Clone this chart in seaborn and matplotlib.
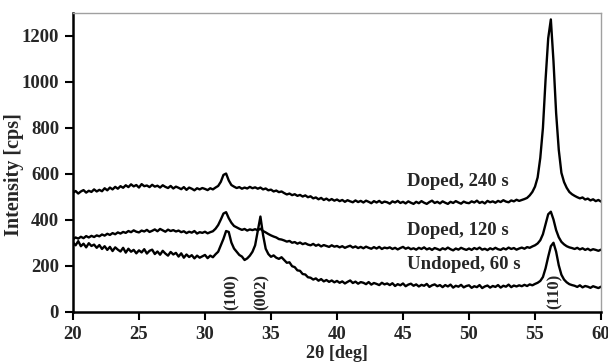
import matplotlib
matplotlib.use("Agg")
import matplotlib.pyplot as plt
import numpy as np
import pandas as pd
import seaborn as sns

# 2-theta grid of the scans (0.2 deg steps, 20..60 deg)
two_theta = np.round(np.linspace(20, 60, 201), 1)

# Doped, 240 s
doped_240 = [
    518, 526, 515, 524, 530, 519, 527, 522, 533, 524,
    531, 525, 538, 529, 541, 533, 544, 536, 547, 540,
    551, 543, 555, 546, 552, 541, 556, 547, 550, 543,
    553, 545, 549, 541, 551, 544, 539, 548, 537, 545,
    540, 534, 543, 531, 541, 536, 529, 538, 533, 539,
    535, 530, 538, 533, 541, 548, 566, 596, 602, 572,
    552, 545, 539, 543, 536, 541, 537, 544, 538, 542,
    536, 541, 533, 537, 529, 532, 524, 528, 521, 524,
    517, 511, 515, 508, 512, 505, 509, 502, 507, 499,
    503, 494, 498, 490, 496, 487, 493, 485, 491, 484,
    489, 482, 487, 479, 486, 481, 477, 485, 478, 483,
    476, 484, 479, 473, 482, 476, 483, 474, 480, 477,
    471, 481, 476, 483, 474, 479, 472, 481, 475, 470,
    479, 473, 482, 475, 470, 478, 484, 474, 479, 472,
    481, 475, 470, 479, 474, 482, 476, 471, 480, 475,
    473, 481, 476, 484, 474, 479, 472, 483, 477, 481,
    475, 483, 478, 486, 480, 477, 485, 481, 488, 483,
    487, 491, 496, 507, 522, 545, 585, 670, 800, 1010,
    1190, 1272, 1090, 865, 705, 605, 565, 540, 522, 512,
    505, 499, 494, 498, 489, 493, 485, 490, 482, 487,
    480,
]

# Doped, 120 s
doped_120 = [
    316, 324, 319, 327, 321, 330, 324, 331, 326, 333,
    329, 337, 332, 340, 335, 343, 338, 346, 341, 348,
    344, 352, 347, 355, 349, 346, 354, 350, 357, 348,
    353, 359, 351, 361, 355, 349, 358, 352, 356, 350,
    354, 347, 351, 343, 349, 345, 352, 341, 347, 344,
    349, 342, 347, 351, 362, 378, 402, 428, 434, 408,
    388, 374, 368, 362, 357, 361, 354, 359, 356, 360,
    355, 362, 352, 346, 339, 333, 328, 324, 317, 315,
    311, 306, 309, 301, 304, 297, 302, 295, 299, 293,
    290, 296, 288, 293, 285, 291, 287, 283, 290, 284,
    287, 281, 286, 279, 284, 288, 280, 285, 278, 283,
    277, 284, 279, 275, 282, 276, 283, 274, 280, 277,
    281, 274, 279, 272, 278, 283, 275, 280, 273, 277,
    271, 279, 274, 281, 272, 277, 270, 278, 274, 269,
    277, 272, 280, 273, 268, 276, 271, 279, 274, 270,
    276, 270, 278, 273, 280, 271, 275, 269, 277, 272,
    279, 273, 270, 277, 272, 280, 274, 278, 271, 276,
    280, 275, 282, 279, 285, 290, 298, 312, 338, 382,
    425, 436, 402, 356, 325, 305, 294, 286, 281, 278,
    274, 279, 272, 277, 270, 275, 268, 273, 270, 266,
    271,
]

# Undoped, 60 s
undoped_60 = [
    302, 290, 308, 286, 297, 281, 299, 287, 293, 279,
    291, 274, 286, 270, 283, 265, 281, 271, 263, 279,
    258, 275, 262, 270, 255, 268, 259, 273, 254, 266,
    271, 252, 263, 249, 266, 254, 245, 261, 250, 257,
    241, 255, 236, 250, 239, 247, 233, 245, 236, 242,
    248, 234, 245, 238, 251, 262, 290, 318, 352, 348,
    302, 276, 262, 248, 241, 226, 233, 245, 262, 290,
    352, 415, 335, 275, 252, 240, 246, 236, 231, 238,
    226, 214, 216, 199, 195, 181, 179, 165, 163, 151,
    149, 141, 146, 136, 143, 133, 139, 131, 137, 129,
    135, 127, 133, 124, 131, 137, 126, 132, 123, 130,
    127, 121, 130, 119, 126, 122, 117, 127, 120, 124,
    117, 125, 113, 121, 116, 124, 112, 119, 123, 114,
    120, 111, 118, 114, 122, 109, 116, 120, 112, 117,
    108, 117, 111, 119, 106, 114, 110, 118, 107, 113,
    116, 105, 112, 108, 117, 104, 111, 115, 106, 113,
    109, 117, 106, 114, 110, 119, 108, 115, 111, 116,
    112, 118, 113, 120, 116, 122, 127, 135, 152, 190,
    240, 286, 301, 262, 203, 162, 141, 129, 121, 117,
    114, 109, 116, 107, 113, 110, 105, 112, 108, 104,
    110,
]

series_names = ["Doped, 240 s", "Doped, 120 s", "Undoped, 60 s"]
label_pos = [(45.3, 548), (45.3, 335), (45.3, 187)]
hkl_labels = ["(100)", "(002)", "(110)"]
hkl_pos = [32.0, 34.3, 56.5]

sns.set_style("ticks")
plt.rcParams["font.family"] = ["Liberation Serif", "DejaVu Serif"]
plt.rcParams["font.weight"] = "bold"

fig = plt.figure(figsize=(6.08, 3.64), dpi=100)
ax = fig.add_axes([0.12, 0.1429, 0.8685, 0.8214])

for values in [doped_240, doped_120, undoped_60]:
    df = pd.DataFrame({"two_theta": two_theta, "intensity": values})
    sns.lineplot(data=df, x="two_theta", y="intensity", color="black",
                 linewidth=1.7, sort=False, ax=ax)

for name, (tx, ty) in zip(series_names, label_pos):
    ax.text(tx, ty, name, fontsize=13.5, fontweight="bold",
            va="baseline", ha="left")

for lab, px in zip(hkl_labels, hkl_pos):
    ax.text(px, 88, lab, rotation=90, fontsize=12, fontweight="bold",
            ha="center", va="center")

ax.set_xlim(20, 60)
ax.set_ylim(0, 1300)
ax.set_xticks(np.arange(20, 61, 5))
ax.set_yticks(np.arange(0, 1201, 200))
ax.set_xlabel("2θ [deg]", fontsize=13, fontweight="bold")
ax.set_ylabel("Intensity [cps]", fontsize=14.5, fontweight="bold")
ax.yaxis.set_label_coords(-0.092, 0.46)
ax.xaxis.set_label_coords(0.5, -0.11)
ax.tick_params(axis="both", direction="out", length=6, width=1.5,
               labelsize=13.5, color="black")
ax.tick_params(axis="x", pad=4)
ax.tick_params(axis="y", pad=4)
for t in ax.get_xticklabels() + ax.get_yticklabels():
    t.set_fontweight("bold")

for side in ["left", "bottom"]:
    ax.spines[side].set_linewidth(1.8)
    ax.spines[side].set_color("black")
for side in ["top", "right"]:
    ax.spines[side].set_visible(True)
    ax.spines[side].set_linewidth(1.0)
    ax.spines[side].set_color("#a0a0a0")

fig.savefig("out.png", dpi=100)
plt.close(fig)
